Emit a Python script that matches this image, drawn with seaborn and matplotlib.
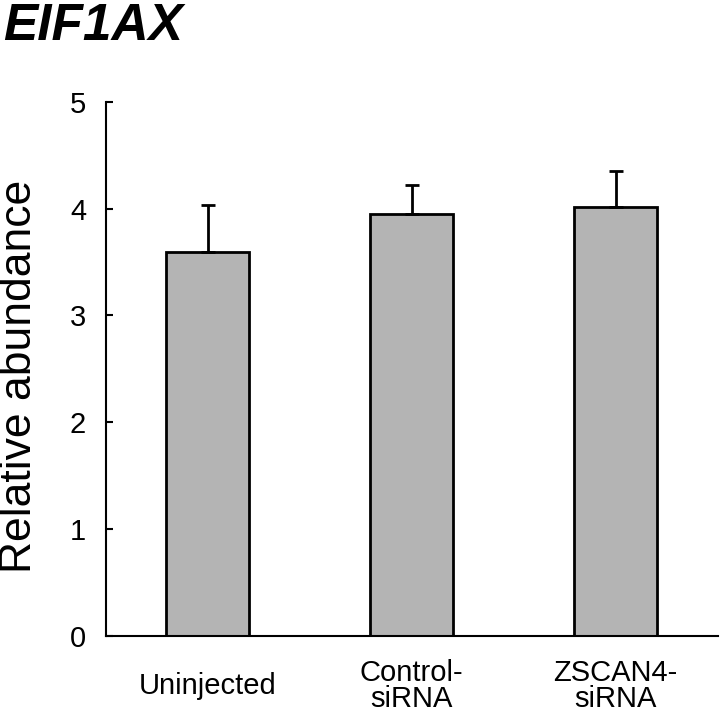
import numpy as np
import seaborn as sns
import matplotlib.pyplot as plt

# values
groups = ['Uninjected', 'Control-\nsiRNA', 'ZSCAN4-\nsiRNA']
means = [3.59, 3.95, 4.01]
errors = [0.44, 0.27, 0.34]
yticks = [0, 1, 2, 3, 4, 5]

sns.set_style("white")
plt.rcParams['font.family'] = ['Liberation Sans', 'DejaVu Sans']
plt.rcParams['text.color'] = 'black'
plt.rcParams['xtick.color'] = 'black'
plt.rcParams['ytick.color'] = 'black'
plt.rcParams['axes.labelcolor'] = 'black'

fig = plt.figure(figsize=(7.2, 7.18), dpi=100)
ax = fig.add_axes([0.1467, 0.1142, 0.85, 0.7442])

sns.barplot(x=groups, y=means, color='#b4b4b4', saturation=1, width=0.41,
            edgecolor='black', linewidth=2, ax=ax)
ax.errorbar(np.arange(len(groups)), means, yerr=[np.zeros(len(errors)), errors],
            fmt='none', ecolor='black', elinewidth=2, capsize=4.7, capthick=2, zorder=1)

ax.set_xlim(-0.5, 2.5)
ax.set_ylim(0, 5)
ax.set_yticks(yticks)
ax.set_yticklabels([str(t) for t in yticks], fontsize=21)

ax.set_xticks(np.arange(len(groups)))
ax.set_xticklabels(groups, fontsize=21, va='center', linespacing=0.95)
ax.set_xticks([0.5, 1.5, 2.5], minor=True)
ax.tick_params(axis='x', which='major', length=0, pad=36, labelcolor='black')
ax.tick_params(axis='x', which='minor', direction='in', length=5, width=1.5, color='black')
ax.tick_params(axis='y', which='major', direction='in', length=5, width=1.5, color='black',
               pad=14, left=True, labelcolor='black')

for side in ['top', 'right']:
    ax.spines[side].set_visible(False)
for side in ['left', 'bottom']:
    ax.spines[side].set_color('black')
    ax.spines[side].set_linewidth(1.5)

ax.set_xlabel('')
ax.set_ylabel('')
fig.text(20 / 720, 1 - 376 / 718, 'Relative abundance', fontsize=32, rotation=90,
         ha='center', va='center', color='black')

fig.text(0.004, 0.997, 'EIF1AX', fontsize=37, fontweight='bold', fontstyle='italic',
         ha='left', va='top', color='black')

plt.savefig('out.png', dpi=100)
plt.close()
